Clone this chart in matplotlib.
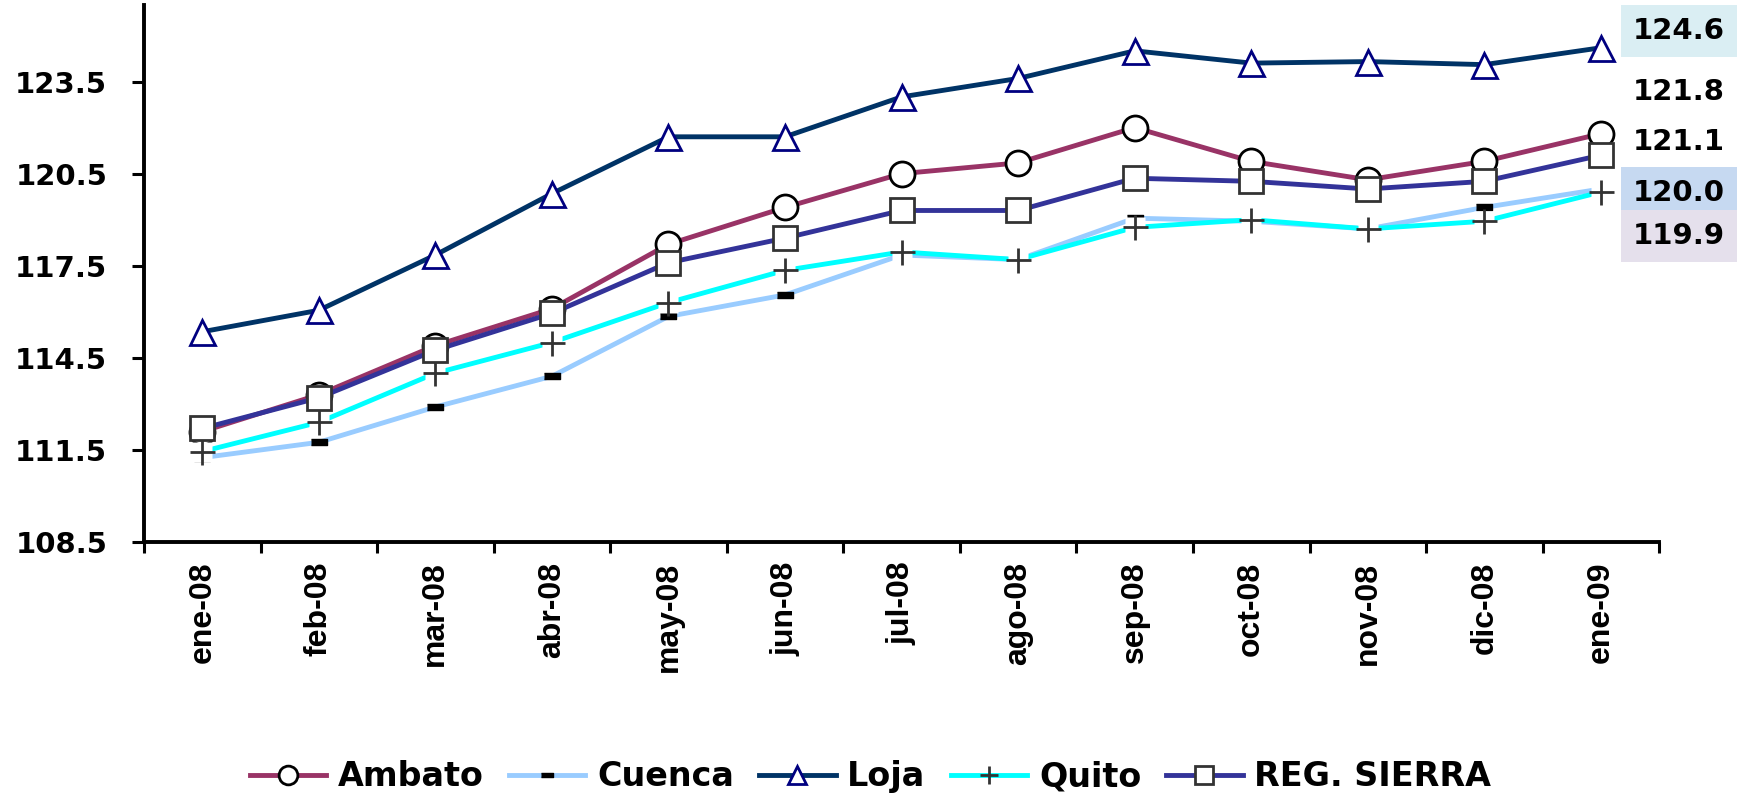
import matplotlib
matplotlib.use("Agg")
import matplotlib.pyplot as plt

# data
meses = ["ene-08", "feb-08", "mar-08", "abr-08", "may-08", "jun-08", "jul-08",
         "ago-08", "sep-08", "oct-08", "nov-08", "dic-08", "ene-09"]
ambato = [112.1, 113.3, 114.9, 116.1, 118.2, 119.4, 120.5, 120.85, 122.0, 120.9, 120.3, 120.9, 121.8]
cuenca = [111.25, 111.75, 112.9, 113.9, 115.85, 116.55, 117.85, 117.7, 119.05, 118.95, 118.7, 119.4, 120.0]
loja = [115.35, 116.05, 117.85, 119.85, 121.7, 121.7, 123.0, 123.6, 124.5, 124.1, 124.15, 124.05, 124.6]
quito = [111.45, 112.4, 114.0, 115.0, 116.3, 117.35, 117.95, 117.7, 118.75, 119.0, 118.7, 118.95, 119.9]
sierra = [112.2, 113.2, 114.75, 115.95, 117.6, 118.4, 119.3, 119.3, 120.35, 120.25, 120.0, 120.25, 121.1]

fig = plt.figure(figsize=(17.41, 7.96), dpi=100)
ax = fig.add_axes([0.0827, 0.319, 0.8703, 0.675])

x = list(range(len(meses)))
bar_marker = [(-1, -0.38), (1, -0.38), (1, 0.38), (-1, 0.38)]

ax.plot(x, ambato, color="#993366", lw=3.5, marker="o", ms=18, mfc="white",
        mec="black", mew=2, label="Ambato", zorder=3)
ax.plot(x, cuenca, color="#99CCFF", lw=3.5, marker=bar_marker, ms=11, mfc="black",
        mec="black", label="Cuenca", zorder=4)
ax.plot(x, loja, color="#003366", lw=3.5, marker="^", ms=18, mfc="white",
        mec="#000080", mew=2, label="Loja", zorder=5)
ax.plot(x, quito, color="#00FFFF", lw=3.5, zorder=6)
ax.plot(x, quito, ls="none", marker="s", ms=14, mfc="white", mec="none", zorder=6)
ax.plot(x, quito, ls="none", marker="+", ms=18, mec="#333333", mew=2, zorder=6)
ax.plot(x, sierra, color="#333399", lw=3.5, marker="s", ms=17, mfc="white",
        mec="#333333", mew=2, label="REG. SIERRA", zorder=7)

# legend proxy for Quito
ax.plot([], [], color="#00FFFF", lw=3.5, marker="+", ms=18, mec="#333333", mew=2, label="Quito")

ax.set_xlim(-0.5, 12.5)
ax.set_ylim(108.5, 126.0)
ax.set_yticks([108.5, 111.5, 114.5, 117.5, 120.5, 123.5])
ax.set_yticklabels(["108.5", "111.5", "114.5", "117.5", "120.5", "123.5"])

ax.set_xticks([i - 0.5 for i in range(len(meses) + 1)])
ax.set_xticklabels([])
ax.set_xticks(x, minor=True)
ax.set_xticklabels(meses, minor=True, rotation=90)

for s in ["top", "right"]:
    ax.spines[s].set_visible(False)
for s in ["left", "bottom"]:
    ax.spines[s].set_linewidth(2.8)

ax.tick_params(axis="y", length=8.5, width=2.2, pad=18, labelsize=21)
ax.tick_params(axis="x", which="major", length=8, width=2.2, direction="out")
ax.tick_params(axis="x", which="minor", length=0, pad=14, labelsize=23)
for t in ax.get_yticklabels():
    t.set_fontweight("bold")
    t.set_family("DejaVu Sans")
for t in ax.get_xticklabels(minor=True):
    t.set_fontweight("bold")
    t.set_family("Liberation Sans")

# last-value labels on the right
etiquetas = [loja[-1], ambato[-1], sierra[-1], cuenca[-1], quito[-1]]
fondos = ["#DAEEF3", "none", "none", "#C6D9F1", "#E5E0EC"]
ypos = [31, 92, 142, 193, 236]
for val, fc, yp in zip(etiquetas, fondos, ypos):
    kw = {}
    if fc != "none":
        kw["bbox"] = dict(boxstyle="square,pad=0.4", fc=fc, ec="none")
    fig.text(1725 / 1741, 1 - yp / 796, f"{val:.1f}", ha="right", va="center",
             fontsize=21, fontweight="bold", family="DejaVu Sans", **kw)

handles, labels = ax.get_legend_handles_labels()
order = ["Ambato", "Cuenca", "Loja", "Quito", "REG. SIERRA"]
hmap = dict(zip(labels, handles))
leg = fig.legend([hmap[k] for k in order], order, loc="center", bbox_to_anchor=(0.5, 0.024),
                 ncol=5, frameon=False, handlelength=2.3, handletextpad=0.35,
                 columnspacing=0.75, prop={"family": "DejaVu Sans", "weight": "bold", "size": 24},
                 markerscale=0.75)

fig.savefig("out.png", dpi=100)
